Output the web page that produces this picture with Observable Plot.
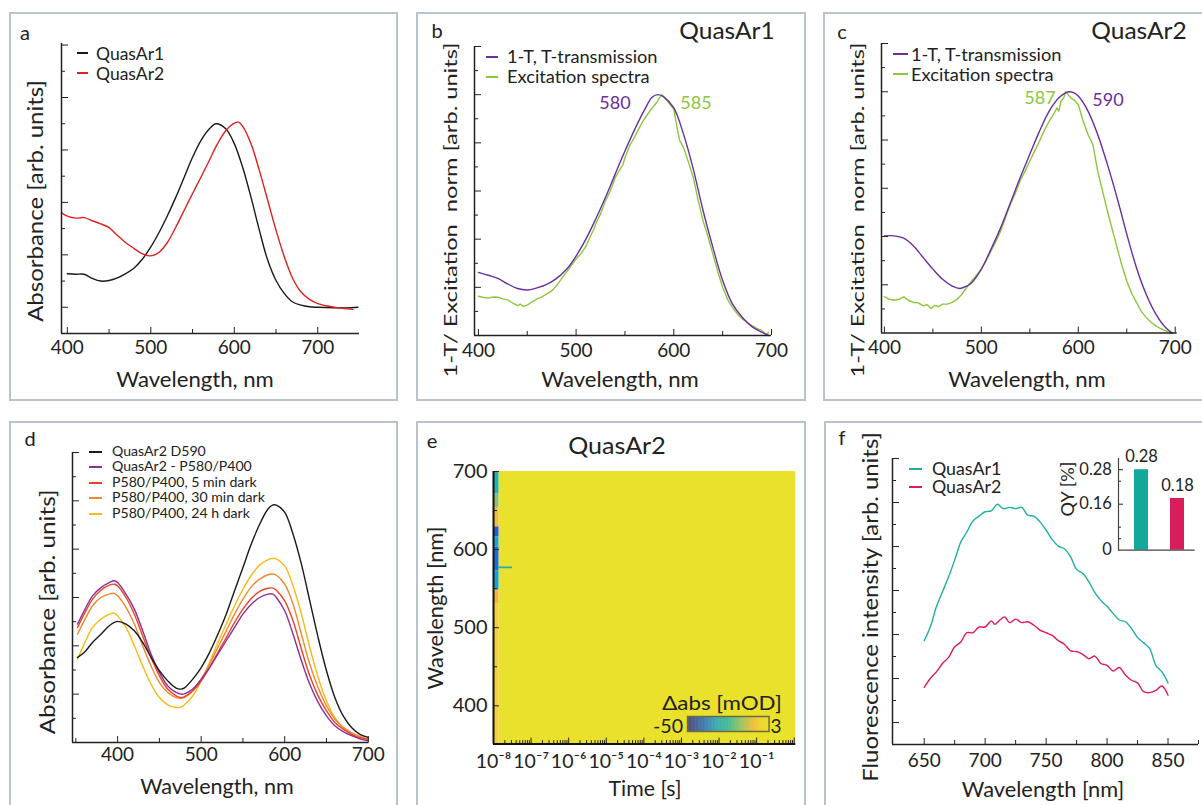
<!DOCTYPE html>
<html><head><meta charset="utf-8">
<script src="https://cdn.jsdelivr.net/npm/d3@7"></script>
<script src="https://cdn.jsdelivr.net/npm/@observablehq/plot@0.6"></script>
<style>
body{margin:0;background:#fff;}
#root{position:relative;width:1202px;height:805px;overflow:hidden;font-family:Lato,"Open Sans",sans-serif;color:#222;background:#fff;}
.panel{position:absolute;border:2px solid #b9c3cf;box-sizing:border-box;}
.t{position:absolute;white-space:pre;line-height:1;}
.sw{position:absolute;height:2px;}
</style></head><body><div id="root"></div><script>
// ---------------- DATA ----------------
// panel a
const aSeries = ["QuasAr1", "QuasAr2"];
const aQ1Wl  = [400,410,420,430,440,450,460,470,480,490,500,510,520,530,540,550,560,570,578,590,600,610,620,630,640,650,660,670,680,690,700,720,740,748];
const aQ1Abs = [0.64,0.63,0.63,0.55,0.50,0.51,0.56,0.64,0.75,0.92,1.15,1.43,1.75,2.10,2.48,2.86,3.18,3.40,3.50,3.40,3.12,2.67,2.10,1.47,0.90,0.51,0.26,0.10,0.04,0.01,0.0,-0.01,-0.01,0.0];
const aQ2Wl  = [393,400,410,420,430,440,450,460,470,480,490,500,510,520,530,540,550,560,570,580,590,600,605,610,620,630,640,650,660,670,680,690,700,710,720,730,742];
const aQ2Abs = [1.80,1.74,1.70,1.71,1.65,1.59,1.52,1.37,1.23,1.12,1.02,0.98,1.05,1.24,1.53,1.85,2.17,2.48,2.80,3.12,3.37,3.51,3.53,3.45,3.12,2.61,2.04,1.47,0.96,0.55,0.29,0.15,0.07,0.03,0.0,-0.02,-0.04];
// panel b (QuasAr1)
const bcSeries = ["1-T, T-transmission", "Excitation spectra"];
const bTWl = [400,410,420,430,440,450,460,470,480,490,500,510,520,530,540,550,560,570,578,584,590,600,610,620,630,640,650,660,670,680,690,697];
const bTV  = [0.262,0.25,0.237,0.214,0.195,0.189,0.198,0.212,0.237,0.274,0.33,0.40,0.483,0.573,0.67,0.766,0.856,0.937,0.99,1.0,0.99,0.945,0.835,0.69,0.518,0.366,0.228,0.131,0.076,0.037,0.014,0];
const bExWl = [400,405,410,415,420,425,430,435,440,443,446,450,455,460,465,470,475,480,485,490,495,500,505,510,515,518,520,525,530,535,540,545,548,550,555,560,565,570,575,580,583,585,588,591,594,597,600,603,606,610,615,620,625,630,635,640,645,650,655,660,665,670,675,680,685,690,694,697];
const bExV  = [0.163,0.158,0.155,0.16,0.159,0.152,0.148,0.135,0.124,0.13,0.121,0.126,0.14,0.152,0.16,0.173,0.185,0.207,0.235,0.262,0.29,0.318,0.34,0.37,0.415,0.44,0.462,0.505,0.559,0.60,0.655,0.69,0.71,0.738,0.79,0.825,0.865,0.90,0.93,0.955,0.97,0.985,1.0,0.985,0.97,0.955,0.94,0.87,0.81,0.78,0.72,0.655,0.56,0.476,0.41,0.338,0.265,0.20,0.15,0.117,0.09,0.069,0.055,0.041,0.03,0.021,0.004,0.012];
const bPeaks = ["580", "585"];
// panel c (QuasAr2)
const cTWl = [400,410,420,430,440,450,460,470,478,485,490,500,510,520,530,540,550,560,570,580,590,595,600,610,620,630,640,650,660,670,680,690,697];
const cTV  = [0.403,0.403,0.393,0.361,0.313,0.265,0.223,0.195,0.185,0.195,0.209,0.265,0.348,0.437,0.54,0.644,0.741,0.837,0.92,0.975,1.0,0.996,0.982,0.92,0.823,0.699,0.561,0.41,0.271,0.161,0.079,0.023,0];
const cExWl = [400,405,410,415,420,425,430,435,440,444,448,452,456,460,465,470,475,480,485,490,495,500,505,510,515,520,525,530,535,540,545,550,555,560,565,570,575,578,580,582,585,587,590,592,596,600,605,610,615,620,625,630,635,640,645,650,655,660,665,670,675,680,685,690,695];
const cExV  = [0.151,0.14,0.136,0.14,0.15,0.135,0.127,0.125,0.113,0.118,0.102,0.115,0.11,0.12,0.12,0.127,0.14,0.161,0.19,0.216,0.24,0.265,0.30,0.34,0.38,0.423,0.48,0.534,0.58,0.63,0.67,0.713,0.755,0.796,0.84,0.878,0.91,0.933,0.92,0.961,0.975,1.0,0.985,0.975,0.965,0.947,0.878,0.823,0.782,0.671,0.589,0.506,0.43,0.354,0.28,0.216,0.165,0.127,0.09,0.065,0.045,0.03,0.018,0.01,0];
const cPeaks = ["587", "590"];
// panel d
const dSeries = ["QuasAr2 D590", "QuasAr2 - P580/P400", "P580/P400, 5 min dark", "P580/P400, 30 min dark", "P580/P400, 24 h dark"];
const dWl = [352,360,370,380,390,396,400,410,420,430,440,450,460,470,476,480,490,500,510,520,530,540,550,560,570,580,586,590,600,610,620,630,640,650,660,670,680,690,700];
const dD590   = [0.352,0.372,0.414,0.448,0.483,0.497,0.501,0.49,0.462,0.414,0.352,0.297,0.255,0.225,0.221,0.226,0.262,0.31,0.372,0.448,0.531,0.628,0.724,0.821,0.903,0.966,0.983,0.982,0.952,0.862,0.738,0.586,0.434,0.297,0.186,0.11,0.062,0.034,0.021];
const dP580   = [0.49,0.545,0.607,0.641,0.662,0.669,0.662,0.614,0.552,0.462,0.366,0.29,0.234,0.207,0.2,0.201,0.221,0.262,0.31,0.366,0.421,0.476,0.531,0.572,0.60,0.614,0.614,0.60,0.545,0.448,0.338,0.241,0.166,0.11,0.069,0.045,0.028,0.015,0.007];
const d5min   = [0.476,0.531,0.593,0.63,0.651,0.655,0.648,0.60,0.531,0.441,0.352,0.276,0.221,0.193,0.186,0.19,0.214,0.255,0.31,0.372,0.434,0.497,0.552,0.596,0.625,0.638,0.639,0.63,0.586,0.503,0.386,0.276,0.193,0.131,0.083,0.055,0.034,0.02,0.014];
const d30min  = [0.448,0.503,0.566,0.60,0.614,0.617,0.607,0.559,0.49,0.40,0.317,0.248,0.207,0.186,0.183,0.186,0.214,0.262,0.324,0.393,0.462,0.531,0.593,0.644,0.676,0.694,0.697,0.692,0.655,0.572,0.448,0.324,0.228,0.152,0.097,0.063,0.041,0.025,0.014];
const d24h    = [0.345,0.407,0.476,0.51,0.531,0.535,0.524,0.476,0.40,0.317,0.241,0.186,0.156,0.145,0.146,0.156,0.193,0.255,0.331,0.414,0.49,0.566,0.634,0.692,0.734,0.757,0.763,0.76,0.731,0.648,0.531,0.393,0.269,0.172,0.103,0.06,0.034,0.02,0.014];
// panel e (transient absorption map, mOD)
const eTimeEdges  = [1e-8, 1.4e-8, 3.2e-8, 1.1];
const eStripEdges = [700, 671, 654, 629, 616, 603, 573, 548, 531, 351];
const eStripVals  = [-24, -15, -6, -40, -28, -38, -30, -7, -2];
const eLineWl = [575.5, 577.7];
const eLineVal = -26;
const eBackVal = 3;
const eStops  = [-50, -40, -31, -23, -15, -7, -3, 3];
const eColors = ["#2c2a8c", "#1f5fd3", "#14a0d8", "#25b5ad", "#8dbe75", "#f2b640", "#f3cd3b", "#e9e12c"];
const eDecades = [1e-8,1e-7,1e-6,1e-5,1e-4,1e-3,1e-2,1e-1,1];
const eWlTicks = [400, 500, 600, 700];
const eWlMinor = [450, 550, 650];
// panel f
const fSeries = ["QuasAr1", "QuasAr2"];
const fQ1Wl = [650,655,660,665,670,675,680,685,690,695,700,705,710,715,720,725,730,735,740,745,750,755,760,765,770,775,780,785,790,795,800,805,810,815,820,825,830,835,840,845,850];
const fQ1I  = [1.86,2.17,2.63,2.97,3.31,3.69,4.1,4.33,4.58,4.69,4.79,4.81,4.96,4.86,4.89,4.86,4.89,4.71,4.69,4.56,4.37,4.16,4.01,3.95,3.77,3.48,3.39,3.2,2.95,2.77,2.64,2.48,2.33,2.29,2.14,1.93,1.81,1.68,1.3,1.15,0.9];
const fQ2Wl = [650,655,660,665,670,675,680,685,690,695,700,705,708,712,716,720,725,730,735,740,745,750,755,760,765,770,775,780,785,790,795,800,805,810,815,820,825,830,835,840,845,850];
const fQ2I  = [0.8,1.0,1.15,1.34,1.48,1.72,1.83,2.04,2.04,2.17,2.17,2.31,2.23,2.33,2.4,2.27,2.35,2.27,2.29,2.21,2.1,2.04,1.98,1.86,1.78,1.63,1.61,1.55,1.45,1.51,1.34,1.3,1.17,1.25,1.08,0.96,0.9,0.7,0.68,0.73,0.83,0.62];
const fQY = [0.28, 0.18];
const fQYTicks = [0, 0.16, 0.28];

// ---------------- HELPERS ----------------
const root = document.getElementById("root");
const zip = (xs, ys) => xs.map((x, i) => ({x, y: ys[i]}));
function panel(l, t, w, h) {
  const d = document.createElement("div"); d.className = "panel";
  Object.assign(d.style, {left: l+"px", top: t+"px", width: w+"px", height: h+"px"});
  root.appendChild(d);
}
// text at centre (x,y) or left-middle if start; optional target width w (stretch along the text)
function txt(s, x, y, {size = 21, color = "#222", rot = false, start = false, w = null, k = null} = {}) {
  const d = document.createElement("div");
  d.className = "t";
  d.textContent = s;
  Object.assign(d.style, {left: x+"px", top: y+"px", fontSize: size+"px", color});
  root.appendChild(d);
  const nat = d.offsetWidth;
  const sc = k != null ? k : (w != null ? w / nat : 1);
  if (start) {
    d.style.transformOrigin = "0 50%";
    d.style.transform = `translate(0,-50%) scaleX(${sc})`;
  } else {
    d.style.transform = `translate(-50%,-50%)${rot ? " rotate(-90deg)" : ""} scaleX(${sc})`;
  }
  return sc;
}
function measure(s, size) {
  const d = document.createElement("div"); d.className = "t"; d.textContent = s; d.style.fontSize = size + "px";
  d.style.visibility = "hidden"; root.appendChild(d); const w = d.offsetWidth; d.remove(); return w;
}
function sw(x1, x2, y, color) {
  const d = document.createElement("div"); d.className = "sw";
  Object.assign(d.style, {left: Math.round(x1)+"px", top: Math.round(y - 1)+"px", width: Math.round(x2-x1)+"px", background: color});
  root.appendChild(d);
}
function mkPlot(f, opts, m = {l: 70, r: 40, t: 20, b: 60}) {
  const p = Plot.plot({
    width: f.x1 - f.x0 + m.l + m.r, height: f.y1 - f.y0 + m.t + m.b,
    marginLeft: m.l, marginRight: m.r, marginTop: m.t, marginBottom: m.b,
    style: {background: "transparent", fontFamily: "Lato, sans-serif", fontSize: "19px", color: "#222", overflow: "visible"},
    ...opts
  });
  Object.assign(p.style, {position: "absolute", left: (f.x0 - m.l)+"px", top: (f.y0 - m.t)+"px", maxWidth: "none"});
  root.appendChild(p);
  return p;
}
const blank = () => "";
function axes({xd, yd, xMaj, xMin = [], yMaj, yMin = [], pad, xFmt, ax = "#222", aw = 1.5}) {
  const m = [
    Plot.axisY({ticks: yMaj, tickSize: -7, tickFormat: blank, label: null}),
    Plot.axisX({ticks: xMaj, tickSize: -6, tickFormat: blank, label: null}),
    Plot.axisX({ticks: xMaj, tickSize: 0, tickPadding: pad, tickFormat: xFmt, label: null}),
    Plot.ruleX([xd[0]], {stroke: ax, strokeWidth: aw}),
    Plot.ruleY([yd[0]], {stroke: ax, strokeWidth: aw})
  ];
  if (yMin.length) m.push(Plot.axisY({ticks: yMin, tickSize: -4, tickFormat: blank, label: null}));
  if (xMin.length) m.push(Plot.axisX({ticks: xMin, tickSize: -4, tickFormat: blank, label: null}));
  return m;
}
const lineW = 1.4;

// ---------------- PANELS ----------------
panel(9, 12, 389, 389); panel(416, 12, 390, 389); panel(823, 12, 400, 389);
panel(9, 421, 389, 400); panel(416, 421, 390, 400); panel(824, 421, 400, 400);

// ---- a ----
{
  const xd = [393, 750], yd = [-0.5, 5.03];
  const cols = ["#1a1a1a", "#e3201f"];
  mkPlot({x0: 61, x1: 359, y0: 43, y1: 333}, {
    x: {domain: xd}, y: {domain: yd},
    marks: [
      Plot.line(zip(aQ1Wl, aQ1Abs), {x: "x", y: "y", stroke: cols[0], strokeWidth: lineW, curve: "catmull-rom"}),
      Plot.line(zip(aQ2Wl, aQ2Abs), {x: "x", y: "y", stroke: cols[1], strokeWidth: lineW, curve: "catmull-rom"}),
      ...axes({xd, yd, xMaj: [400,500,600,700], xMin: [450,550,650], yMaj: [0,1,2,3,4,5], yMin: [0.5,1.5,2.5,3.5,4.5], pad: 7})
    ]
  });
  txt("a", 25, 32, {size: 20});
  const k = 68 / measure(aSeries[0], 17);
  aSeries.forEach((s, i) => { sw(77, 88, 53 + i*20, cols[i]); txt(s, 96, 53 + i*20, {size: 17, start: true, k}); });
  txt("Absorbance [arb. units]", 35, 201, {size: 22, rot: true, w: 242});
  txt("Wavelength, nm", 195, 378, {size: 21, w: 157});
}
// ---- b & c ----
const purple = "#6a2e9f", green = "#8cc63f";
function spectraPanel(f, xd, T, Ex, pad) {
  const yd = [0, 1.2];
  mkPlot(f, {
    x: {domain: xd}, y: {domain: yd},
    marks: [
      Plot.line(Ex, {x: "x", y: "y", stroke: green, strokeWidth: lineW}),
      Plot.line(T, {x: "x", y: "y", stroke: purple, strokeWidth: lineW, curve: "catmull-rom"}),
      ...axes({xd, yd, xMaj: [400,500,600,700], xMin: [450,550,650], yMaj: [0.2,0.4,0.6,0.8,1.0,1.2], yMin: [0.1,0.3,0.5,0.7,0.9,1.1], pad})
    ]
  });
}
const bcLabel = "1-T/ Excitation  norm [arb. units]";
spectraPanel({x0: 474, x1: 771, y0: 46, y1: 335}, [396, 700], zip(bTWl, bTV), zip(bExWl, bExV), 8);
txt("b", 437, 30, {size: 20});
txt("QuasAr1", 727, 30, {size: 24, w: 95});
{
  const k = 151 / measure(bcSeries[0], 17.5);
  bcSeries.forEach((s, i) => { sw(486, 498, 57 + i*20, [purple, green][i]); txt(s, 507, 57 + i*20, {size: 17.5, start: true, k}); });
}
txt(bPeaks[0], 615, 102, {size: 18, color: purple, w: 31});
txt(bPeaks[1], 696, 102, {size: 18, color: green, w: 31});
txt(bcLabel, 450, 210, {size: 17, rot: true, w: 335});
txt("Wavelength, nm", 620, 378, {size: 21, w: 157});

spectraPanel({x0: 881, x1: 1176.7, y0: 42.7, y1: 332.3}, [397, 702], zip(cTWl, cTV), zip(cExWl, cExV), 7.5);
txt("c", 842, 31, {size: 20});
txt("QuasAr2", 1139, 30, {size: 24, w: 95});
{
  const k = 150 / measure(bcSeries[0], 17);
  bcSeries.forEach((s, i) => { sw(893, 908, 54 + i*19.5, [purple, green][i]); txt(s, 911, 54 + i*19.5, {size: 17, start: true, k}); });
}
txt(cPeaks[0], 1040, 97, {size: 18, color: green, w: 31});
txt(cPeaks[1], 1108, 99, {size: 18, color: purple, w: 31});
txt(bcLabel, 857, 210, {size: 17, rot: true, w: 335});
txt("Wavelength, nm", 1027, 378, {size: 21, w: 157});

// ---- d ----
{
  const xd = [346, 701], yd = [0, 1.2];
  const cols = ["#1a1a1a", "#8e2d9c", "#ee4323", "#f3872f", "#fdb813"];
  const ys = [dD590, dP580, d5min, d30min, d24h];
  mkPlot({x0: 71.7, x1: 368.3, y0: 451.7, y1: 741.7}, {
    x: {domain: xd}, y: {domain: yd},
    marks: [
      ...[4,3,2,1,0].map(k => Plot.line(zip(dWl, ys[k]), {x: "x", y: "y", stroke: cols[k], strokeWidth: lineW, curve: "catmull-rom"})),
      ...axes({xd, yd, xMaj: [400,500,600,700], xMin: [350,450,550,650], yMaj: [0.2,0.4,0.6,0.8,1.0,1.2], yMin: [0.1,0.3,0.5,0.7,0.9,1.1], pad: 5})
    ]
  });
  txt("d", 30, 438, {size: 20});
  const k = 140 / measure(dSeries[1], 13.5);
  dSeries.forEach((s, i) => { sw(89, 102, 452 + i*15.4, cols[i]); txt(s, 112, 452 + i*15.4, {size: 13.5, start: true, k}); });
  txt("Absorbance [arb. units]", 47, 612, {size: 22, rot: true, w: 245});
  txt("Wavelength, nm", 217, 785, {size: 21, w: 153});
}
// ---- e ----
{
  const xd = [1e-8, 1.1], yd = [351, 700];
  const cells = [{x1: eTimeEdges[1], x2: eTimeEdges[3], y1: yd[0], y2: yd[1], v: eBackVal}];
  eStripVals.forEach((v, i) => cells.push({x1: eTimeEdges[0], x2: eTimeEdges[1], y1: eStripEdges[i+1], y2: eStripEdges[i], v}));
  cells.push({x1: eTimeEdges[1], x2: eTimeEdges[2], y1: eLineWl[0], y2: eLineWl[1], v: eLineVal});
  const minor = [];
  eDecades.slice(0, -1).forEach(d => { for (let k = 2; k <= 9; k++) minor.push(d * k); });
  const sup = {"-": "⁻", "0": "⁰", "1": "¹", "2": "²", "3": "³", "4": "⁴", "5": "⁵", "6": "⁶", "7": "⁷", "8": "⁸", "9": "⁹"};
  const fmt = d => "10" + String(Math.round(Math.log10(d))).split("").map(c => sup[c]).join("");
  const color = {type: "linear", domain: eStops, range: eColors};
  mkPlot({x0: 492.7, x1: 795, y0: 470.7, y1: 743.3}, {
    x: {type: "log", domain: xd}, y: {domain: yd}, color,
    marks: [
      Plot.rect(cells, {x1: "x1", x2: "x2", y1: "y1", y2: "y2", fill: "v"}),
      Plot.axisY({ticks: eWlTicks, tickSize: -6, tickFormat: blank, label: null}),
      Plot.axisY({ticks: eWlMinor, tickSize: -4, tickFormat: blank, label: null}),
      Plot.axisY({ticks: eWlTicks, tickSize: 0, tickPadding: 6, fontSize: 20, label: null}),
      Plot.axisX({ticks: eDecades, tickSize: -6, tickFormat: blank, label: null}),
      Plot.axisX({ticks: minor, tickSize: -3.5, tickFormat: blank, label: null}),
      Plot.axisX({ticks: eDecades.slice(0, -1), tickSize: 0, tickPadding: 10, tickFormat: fmt, fontSize: 19.5, label: null}),
      Plot.ruleX([xd[0]], {stroke: "#111", strokeWidth: 2}),
      Plot.ruleY([yd[0]], {stroke: "#111", strokeWidth: 2})
    ]
  });
  // colour bar
  const ramp = d3.range(eStops[0], eStops[eStops.length - 1], 0.5);
  mkPlot({x0: 686.7, x1: 768.3, y0: 716, y1: 731}, {
    x: {domain: [eStops[0], eStops[eStops.length - 1]], axis: null}, y: {domain: [0, 1], axis: null}, color,
    marks: [
      Plot.rect(ramp, {x1: d => d, x2: d => d + 0.5, y1: 0, y2: 1, fill: d => d}),
      Plot.frame({stroke: "#6b6a45", strokeWidth: 1.5})
    ]
  }, {l: 0, r: 0, t: 0, b: 0});
  txt("e", 432, 440, {size: 20});
  txt("QuasAr2", 617, 445, {size: 24, w: 97});
  txt("Δabs [mOD]", 722, 702, {size: 19, w: 120});
  txt(String(eStops[0]), 668, 724.5, {size: 19, w: 30});
  txt(String(eStops[eStops.length - 1]), 776, 724.5, {size: 19});
  txt("Wavelength [nm]", 435, 608, {size: 22, rot: true, w: 163});
  txt("Time [s]", 645, 787, {size: 21, w: 73});
}
// ---- f ----
{
  const xd = [624, 875], yd = [-0.5, 6.0];
  const cols = ["#1fb0a4", "#df1b5c"];
  mkPlot({x0: 892.3, x1: 1198.3, y0: 458.3, y1: 744.3}, {
    x: {domain: xd}, y: {domain: yd},
    marks: [
      Plot.line(zip(fQ1Wl, fQ1I), {x: "x", y: "y", stroke: cols[0], strokeWidth: lineW, curve: "catmull-rom"}),
      Plot.line(zip(fQ2Wl, fQ2I), {x: "x", y: "y", stroke: cols[1], strokeWidth: lineW, curve: "catmull-rom"}),
      ...axes({xd, yd, xMaj: [650,700,750,800,850], xMin: [675,725,775,825,875], yMaj: [0,1,2,3,4,5,6], yMin: [0.5,1.5,2.5,3.5,4.5,5.5], pad: 9})
    ]
  });
  // inset: quantum yield
  const qy = fSeries.map((s, i) => ({s, v: fQY[i]}));
  mkPlot({x0: 1118.3, x1: 1195, y0: 458.3, y1: 550}, {
    x: {domain: fSeries, axis: null, paddingInner: 0.623, paddingOuter: 0.368, align: 0.59},
    y: {domain: [0, 0.319]},
    marks: [
      Plot.barY(qy, {x: "s", y: "v", fill: ["#14a89a", "#d81d5a"]}),
      Plot.text(qy, {x: "s", y: "v", text: d => String(d.v), dy: -13, fontSize: 16.5}),
      Plot.axisY({ticks: fQYTicks, tickSize: 0, tickPadding: 6.6, fontSize: 16.5, tickFormat: d => String(d), label: null}),
      Plot.axisY({ticks: fQYTicks.slice(1), tickSize: -5, tickFormat: blank, label: null}),
      Plot.axisY({ticks: [0.04, 0.08, 0.24], tickSize: -3, tickFormat: blank, label: null}),
      Plot.frame({anchor: "left", stroke: "#444", strokeWidth: 1.2}),
      Plot.ruleY([0], {stroke: "#444", strokeWidth: 1.2})
    ]
  });
  txt("f", 842, 437, {size: 20});
  const k = 69 / measure(fSeries[0], 16.5);
  fSeries.forEach((s, i) => { sw(909, 922, 469.3 + i*18, cols[i]); txt(s, 932, 469.3 + i*18, {size: 16.5, start: true, k}); });
  txt("Fluorescence intensity [arb. units]", 869, 607, {size: 21, rot: true, w: 350});
  txt("Wavelength [nm]", 1043, 788, {size: 21, w: 162});
  txt("QY [%]", 1068, 489, {size: 16.5, rot: true, w: 55});
}
</script></body></html>
